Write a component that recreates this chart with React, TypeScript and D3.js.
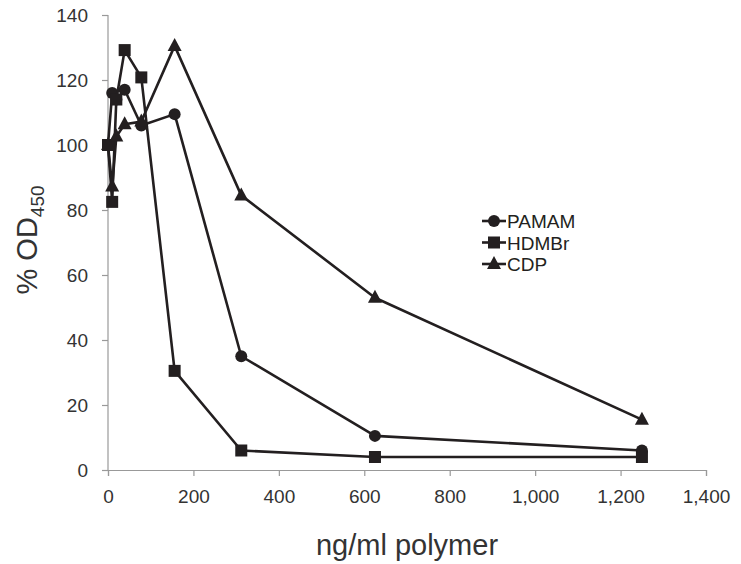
// % OD450 vs polymer concentration, three polymers
import React, { useEffect, useRef } from 'react';
import * as d3 from 'd3';

const concentrations = [0, 9.77, 19.5, 39, 78, 156, 312, 625, 1250];
const pamam = [100, 116, 114, 117, 106, 109.5, 35, 10.5, 6];
const hdmbr = [100, 82.5, 114, 129.2, 120.8, 30.5, 6, 4, 4];
const cdp = [100, 87.2, 102.6, 106.4, 107.2, 130.5, 84.5, 53, 15.5];
const seriesNames = ['PAMAM', 'HDMBr', 'CDP'];
const seriesShapes = ['circle', 'square', 'triangle'];
const xTicks = [0, 200, 400, 600, 800, 1000, 1200, 1400];
const yTicks = [0, 20, 40, 60, 80, 100, 120, 140];

const W = 741, H = 564;
const INK = '#231f20';
const FONT = 'Liberation Sans, Arial, sans-serif';

function drawMarker(g: any, shape: string, x: number, y: number) {
  if (shape === 'circle') {
    g.append('circle').attr('cx', x).attr('cy', y).attr('r', 6).attr('fill', INK);
  } else if (shape === 'square') {
    g.append('rect').attr('x', x - 6).attr('y', y - 6).attr('width', 12).attr('height', 12).attr('fill', INK);
  } else {
    g.append('path')
      .attr('d', `M${x},${y - 8}L${x + 7},${y + 5}L${x - 7},${y + 5}Z`)
      .attr('fill', INK);
  }
}

export default function App() {
  const ref = useRef<SVGSVGElement>(null);

  useEffect(() => {
    const svg = d3.select(ref.current);
    svg.selectAll('*').remove();

    const x = d3.scaleLinear().domain([0, 1400]).range([108, 706]);
    const y = d3.scaleLinear().domain([0, 140]).range([470, 15]);

    // axes
    const xAxis = svg.append('g').attr('transform', `translate(0,${y(0)})`)
      .call(d3.axisBottom(x).tickValues(xTicks).tickSize(6).tickPadding(14).tickFormat(d3.format(',')));
    const yAxis = svg.append('g').attr('transform', `translate(${x(0)},0)`)
      .call(d3.axisLeft(y).tickValues(yTicks).tickSize(6).tickPadding(14));
    [xAxis, yAxis].forEach((a) => {
      a.selectAll('path, line').attr('stroke', '#999').attr('stroke-width', 1.2);
      a.selectAll('text')
        .attr('font-family', FONT)
        .attr('font-size', 19)
        .attr('fill', '#333');
    });
    yAxis.select('.domain').attr('d', `M0,${y(0)}V${y(140)}`);

    const all = [pamam, hdmbr, cdp];
    const line = d3.line<number>().x((_, i) => x(concentrations[i])).y((d) => y(d));

    all.forEach((vals, si) => {
      const g = svg.append('g');
      g.append('path').attr('d', line(vals)).attr('fill', 'none')
        .attr('stroke', INK).attr('stroke-width', 2.6).attr('stroke-linejoin', 'round');
      vals.forEach((v, i) => drawMarker(g, seriesShapes[si], x(concentrations[i]), y(v)));
    });

    // legend
    seriesNames.forEach((name, i) => {
      const ly = 221 + i * 21.5;
      const g = svg.append('g');
      g.append('line').attr('x1', 482).attr('x2', 506).attr('y1', ly).attr('y2', ly)
        .attr('stroke', INK).attr('stroke-width', 2.6);
      drawMarker(g, seriesShapes[i], 494, ly);
      g.append('text').attr('x', 507).attr('y', ly + 7)
        .attr('font-family', FONT)
        .attr('font-size', 19).attr('fill', INK).text(name);
    });

    // axis titles
    svg.append('text').attr('x', 407).attr('y', 555).attr('text-anchor', 'middle')
      .attr('font-family', FONT)
      .attr('font-size', 29).attr('fill', '#333').text('ng/ml polymer');

    const yt = svg.append('text').attr('transform', 'translate(37,240) rotate(-90)')
      .attr('text-anchor', 'middle')
      .attr('font-family', FONT)
      .attr('font-size', 29).attr('fill', '#333');
    yt.append('tspan').text('% OD');
    yt.append('tspan').attr('font-size', 19).attr('dy', 7).text('450');
  }, []);

  return (
    <svg ref={ref} width={W} height={H}
      style={{ position: 'absolute', left: 0, top: 0, background: '#fff' }} />
  );
}
